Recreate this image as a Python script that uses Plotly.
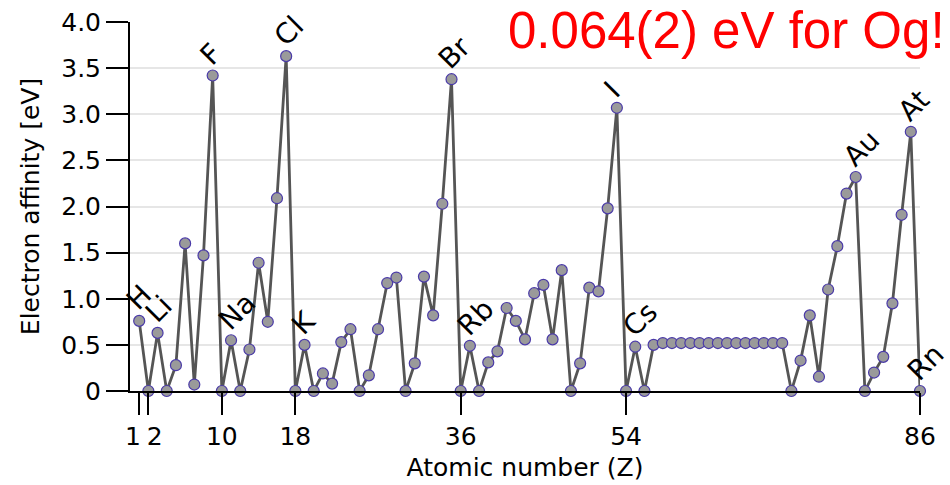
import plotly.graph_objects as go

# Data
Z = list(range(1, 87))
affinity = [
    0.76, 0.0, 0.63, 0.0, 0.28, 1.60, 0.07, 1.47, 3.42, 0.0,
    0.55, 0.0, 0.45, 1.39, 0.75, 2.09, 3.63, 0.0, 0.50, 0.0,
    0.19, 0.08, 0.53, 0.67, 0.0, 0.17, 0.67, 1.17, 1.23, 0.0,
    0.30, 1.24, 0.82, 2.03, 3.38, 0.0, 0.49, 0.0, 0.31, 0.43,
    0.90, 0.76, 0.56, 1.06, 1.15, 0.56, 1.31, 0.0, 0.30, 1.12,
    1.08, 1.98, 3.07, 0.0, 0.48, 0.0, 0.50, 0.52, 0.52, 0.52,
    0.52, 0.52, 0.52, 0.52, 0.52, 0.52, 0.52, 0.52, 0.52, 0.52,
    0.52, 0.0, 0.33, 0.82, 0.155, 1.10, 1.57, 2.14, 2.32, 0.0,
    0.20, 0.37, 0.95, 1.91, 2.81, 0.0,
]
label_names = ["H", "Li", "F", "Na", "Cl", "K", "Br", "Rb", "I", "Cs", "Au", "At", "Rn"]
label_z = [1, 3, 9, 11, 17, 19, 35, 37, 53, 55, 79, 85, 86]
x_tickvals = [1, 2, 10, 18, 36, 54, 86]
x_ticktext = ["1\u2002", "\u20022", "10", "18", "36", "54", "86"]
y_tickvals = [0, 0.5, 1.0, 1.5, 2.0, 2.5, 3.0, 3.5, 4.0]
y_ticktext = ["0", "0.5", "1.0", "1.5", "2.0", "2.5", "3.0", "3.5", "4.0"]
note_text = "0.064(2) eV for Og!"

FONT = "DejaVu Sans"

fig = go.Figure()
fig.add_trace(go.Scatter(
    x=Z, y=affinity, mode="lines+markers",
    line=dict(color="#555555", width=2.8),
    marker=dict(size=11, color="#9a9a9a", line=dict(color="#4a3aa8", width=1.2)),
    cliponaxis=False, showlegend=False, hoverinfo="x+y",
))

annotations = []
for name, z in zip(label_names, label_z):
    annotations.append(dict(
        x=z, y=affinity[z - 1], xref="x", yref="y",
        text=name, showarrow=False, textangle=-45,
        xanchor="left", yanchor="bottom", xshift=-22, yshift=1,
        font=dict(family=FONT, size=28, color="black"),
    ))
annotations.append(dict(
    x=(726 - 130) / 790, y=(391 - 30) / 369, xref="paper", yref="paper",
    text=note_text, showarrow=False, xanchor="center", yanchor="middle",
    font=dict(family="Liberation Sans, Arial", size=51, color="#ff0000"),
))

fig.add_shape(type="rect", xref="paper", yref="paper",
              x0=(487 - 130) / 790, x1=(950 - 130) / 790,
              y0=(391 - 52) / 369, y1=(391 + 2) / 369,
              fillcolor="white", line=dict(width=0), layer="between")

fig.update_layout(
    width=950, height=485,
    margin=dict(l=130, r=30, t=22, b=94, autoexpand=False),
    paper_bgcolor="white", plot_bgcolor="white",
    font=dict(family=FONT, size=25, color="black"),
    annotations=annotations,
    xaxis=dict(
        range=[0, 86], tickvals=x_tickvals, ticktext=x_ticktext,
        tickangle=0, automargin=False,
        showgrid=False, zeroline=False, showline=True, linecolor="black", linewidth=2,
        ticks="outside", ticklen=22, tickwidth=2, tickcolor="black",
        tickfont=dict(family=FONT, size=25),
        title=dict(text="Atomic number (Z)", font=dict(family=FONT, size=25), standoff=8),
    ),
    yaxis=dict(
        range=[0, 4.0], tickvals=y_tickvals, ticktext=y_ticktext, automargin=False,
        showgrid=True, gridcolor="#e6e6e6", gridwidth=2,
        zeroline=False, showline=True, linecolor="black", linewidth=2,
        ticks="outside", ticklen=22, tickwidth=2, tickcolor="black",
        tickfont=dict(family=FONT, size=25),
        title=dict(text="Electron affinity [eV]", font=dict(family=FONT, size=25), standoff=14),
    ),
)

fig.write_html("out.html")
